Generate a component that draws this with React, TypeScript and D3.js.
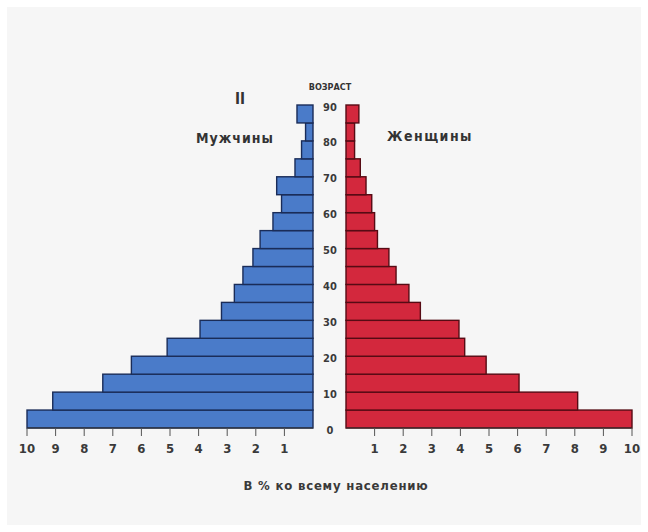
import React from "react";
import * as d3 from "d3";

const ageStarts = [0, 5, 10, 15, 20, 25, 30, 35, 40, 45, 50, 55, 60, 65, 70, 75, 80, 85];
const male = [10.0, 9.1, 7.35, 6.35, 5.1, 3.95, 3.2, 2.75, 2.45, 2.1, 1.85, 1.4, 1.1, 1.27, 0.63, 0.4, 0.26, 0.56];
const female = [10.0, 8.1, 6.05, 4.9, 4.15, 3.95, 2.6, 2.2, 1.75, 1.5, 1.1, 1.0, 0.9, 0.7, 0.5, 0.3, 0.3, 0.45];
const ageTicks = [0, 10, 20, 30, 40, 50, 60, 70, 80, 90];
const pctTicks = [1, 2, 3, 4, 5, 6, 7, 8, 9, 10];

const W = 648;
const H = 532;
const FONT = "'DejaVu Sans Condensed', 'Liberation Sans Narrow', 'DejaVu Sans', sans-serif";

export default function App() {
  const y = d3.scaleLinear().domain([0, 90]).range([428, 105]);
  const xL = d3.scaleLinear().domain([0, 10]).range([313, 27]);
  const xR = d3.scaleLinear().domain([0, 10]).range([346, 632]);
  const axisY = y(0);

  return (
    <div style={{ position: "absolute", left: 0, top: 0 }}>
      <svg width={W} height={H} style={{ display: "block" }}>
        <rect x={0} y={0} width={W} height={H} fill="#ffffff" />
        <rect x={7} y={7} width={634} height={518} fill="#f6f6f6" />

        {/* male bars */}
        {ageStarts.map((a, i) => (
          <rect
            key={"m" + a}
            x={xL(male[i])}
            y={y(a + 5)}
            width={xL(0) - xL(male[i])}
            height={y(a) - y(a + 5)}
            fill="#4a7bc9"
            stroke="#1a2c58"
            strokeWidth={1.4}
          />
        ))}
        {/* female bars */}
        {ageStarts.map((a, i) => (
          <rect
            key={"f" + a}
            x={xR(0)}
            y={y(a + 5)}
            width={xR(female[i]) - xR(0)}
            height={y(a) - y(a + 5)}
            fill="#d3283d"
            stroke="#560b14"
            strokeWidth={1.4}
          />
        ))}

        {/* bottom axes */}
        <line x1={xL(10)} x2={xL(0)} y1={axisY} y2={axisY} stroke="#333" strokeWidth={1} />
        <line x1={xR(0)} x2={xR(10)} y1={axisY} y2={axisY} stroke="#333" strokeWidth={1} />
        {pctTicks.map((t) => (
          <g key={"lt" + t}>
            <line x1={xL(t)} x2={xL(t)} y1={axisY} y2={axisY + 8} stroke="#555" strokeWidth={1} />
            <text x={xL(t)} y={axisY + 25} textAnchor="middle" fontFamily={FONT} fontSize={13} fontWeight="bold" fill="#3a3a3a">
              {t}
            </text>
          </g>
        ))}
        {pctTicks.map((t) => (
          <g key={"rt" + t}>
            <line x1={xR(t)} x2={xR(t)} y1={axisY} y2={axisY + 8} stroke="#555" strokeWidth={1} />
            <text x={xR(t)} y={axisY + 25} textAnchor="middle" fontFamily={FONT} fontSize={13} fontWeight="bold" fill="#3a3a3a">
              {t}
            </text>
          </g>
        ))}

        {/* age labels */}
        {ageTicks.map((t) => (
          <text
            key={"a" + t}
            x={330}
            y={y(t) + 2}
            textAnchor="middle"
            dominantBaseline="central"
            fontFamily={FONT}
            fontSize={11}
            fontWeight="bold"
            fill="#3a3a3a"
          >
            {t}
          </text>
        ))}

        <text x={330} y={90} textAnchor="middle" fontFamily={FONT} fontSize={9} fontWeight="bold" fill="#333">
          ВОЗРАСТ
        </text>
        <text x={240} y={104} textAnchor="middle" fontFamily={FONT} fontSize={15} fontWeight="bold" fill="#333">
          II
        </text>
        <text x={235} y={143} textAnchor="middle" fontFamily={FONT} fontSize={14} fontWeight="bold" letterSpacing={1} fill="#333">
          Мужчины
        </text>
        <text x={430} y={141} textAnchor="middle" fontFamily={FONT} fontSize={14} fontWeight="bold" letterSpacing={1.5} fill="#333">
          Женщины
        </text>
        <text x={336} y={490} textAnchor="middle" fontFamily={FONT} fontSize={13} fontWeight="bold" letterSpacing={0.8} fill="#3a3a3a">
          В % ко всему населению
        </text>
      </svg>
    </div>
  );
}
